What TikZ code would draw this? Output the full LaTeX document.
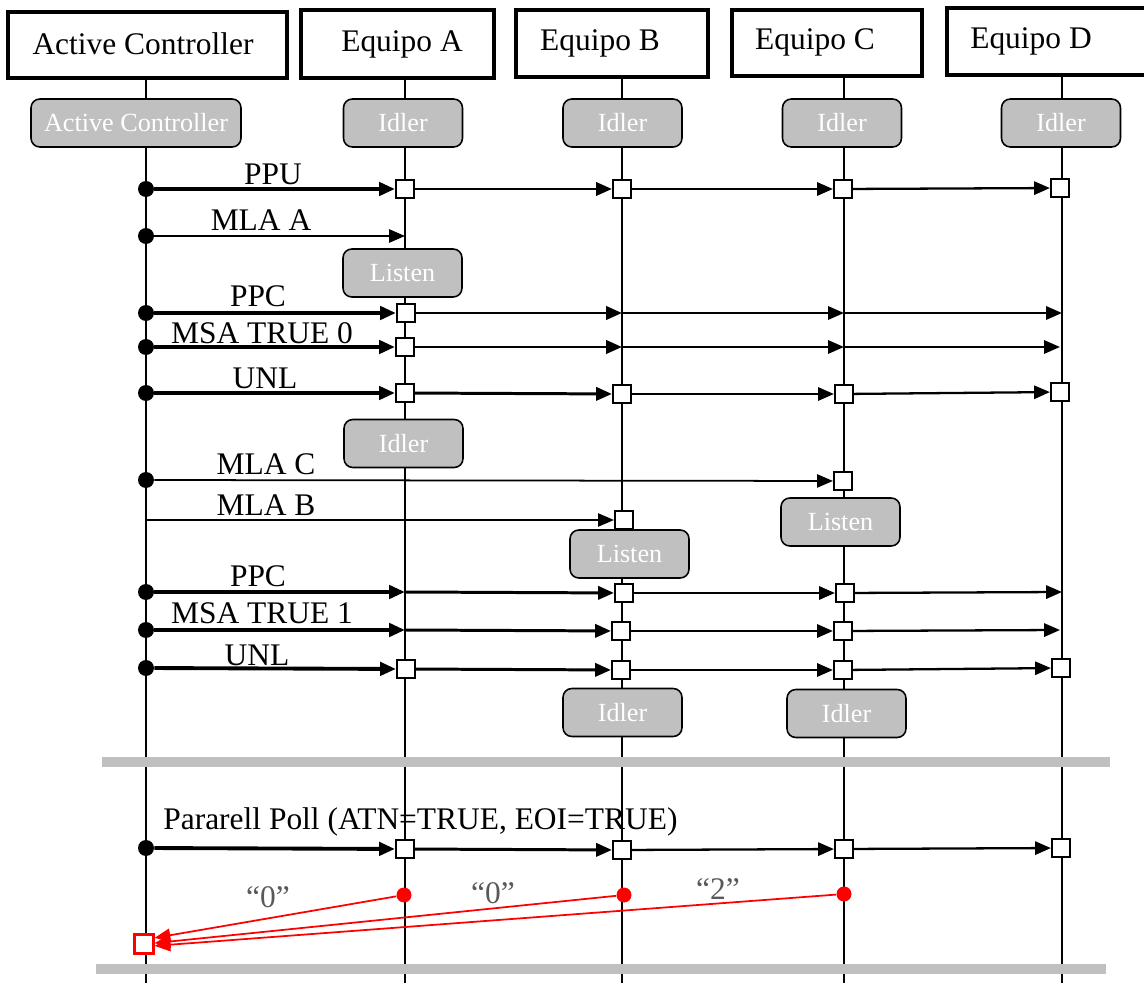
\documentclass[tikz,border=0pt]{standalone}
\usepackage{fontspec}
\setmainfont{Liberation Serif}
\usepackage{tikz}
\usetikzlibrary{arrows.meta, positioning}

\definecolor{stategray}{HTML}{C0C0C0}
\definecolor{quotegray}{HTML}{595959}

\tikzset{
	headbox/.style={draw, line width=2pt, inner sep=0pt},
	headtxt/.style={font=\fontsize{17.9}{20}\selectfont, inner sep=0pt},
	statebox/.style={draw, line width=0.9pt, fill=stategray, rounded corners=5pt, text=white,
		font=\fontsize{14.9}{17}\selectfont, minimum width=2.38cm, minimum height=0.96cm, inner sep=0pt},
	lifeline/.style={line width=1pt},
	sq/.style={draw, line width=1.2pt, fill=white, minimum size=0.36cm, inner sep=0pt},
	src/.style={circle, fill=black, minimum size=0.32cm, inner sep=0pt},
	msglbl/.style={font=\fontsize{17.9}{20}\selectfont, inner sep=0pt},
	msgtip/.style={-{Triangle[length=9pt,width=7.5pt]}},
	bigmsg/.style={msgtip, line width=2.2pt},
	midmsg/.style={msgtip, line width=1.7pt},
	smallmsg/.style={msgtip, line width=1.3pt},
	thinmsg/.style={msgtip, line width=1pt},
	reply/.style={draw=red, line width=1pt, -{Triangle[length=9pt,width=7.5pt]}, red},
	rdot/.style={circle, fill=red, minimum size=0.3cm, inner sep=0pt},
	rsquare/.style={draw=red, line width=1.2pt, fill=white, minimum size=0.38cm, inner sep=0pt},
	quote/.style={font=\fontsize{17.9}{20}\selectfont, text=quotegray, inner sep=0pt},
	sepbar/.style={line width=6.2pt, stategray}
}

\begin{document}
\begin{tikzpicture}[x=0.02cm, y=-0.02cm]
	\useasboundingbox (0,0) rectangle (1144,983);
	% header boxes
	\node[headbox, minimum width=5.58cm, minimum height=1.32cm] (hAC) at (147.5,45) {};
	\node[headbox, minimum width=3.86cm, minimum height=1.36cm] (hA) at (397.5,44) {};
	\node[headbox, minimum width=3.84cm, minimum height=1.34cm] (hB) at (612,43.5) {};
	\node[headbox, minimum width=3.8cm, minimum height=1.32cm] (hC) at (827,43) {};
	\node[headbox, minimum width=4cm, minimum height=1.34cm] (hD) at (1047,41.5) {};
	\node[headtxt] (tAC) at (143,44) {Active Controller};
	\node[headtxt] (tA) at (402,44) {Equipo A};
	\node[headtxt] (tB) at (600,43) {Equipo B};
	\node[headtxt] (tC) at (815,42) {Equipo C};
	\node[headtxt] (tD) at (1031,41) {Equipo D};

	% lifelines
	\coordinate (lAC) at (146,983);
	\coordinate (lA) at (405,983);
	\coordinate (lB) at (622,983);
	\coordinate (lC) at (844,983);
	\coordinate (lD) at (1062,983);
	\draw[lifeline] (hAC.south -| lAC) -- (lAC);
	\draw[lifeline] (hA.south -| lA) -- (lA);
	\draw[lifeline] (hB.south -| lB) -- (lB);
	\draw[lifeline] (hC.south -| lC) -- (lC);
	\draw[lifeline] (hD.south -| lD) -- (lD);

	% states
	\node[statebox, minimum width=4.2cm] (sAC) at (136,123) {Active Controller};
	\node[statebox] (sA0) at (403,123) {Idler};
	\node[statebox] (sB0) at (622.5,123) {Idler};
	\node[statebox] (sC0) at (842,123) {Idler};
	\node[statebox] (sD0) at (1061,123) {Idler};
	\node[statebox] (sA1) at (402.5,273) {Listen};
	\node[statebox] (sA2) at (403.5,443.5) {Idler};
	\node[statebox] (sC1) at (840.5,522) {Listen};
	\node[statebox] (sB1) at (629.5,554) {Listen};
	\node[statebox] (sB2) at (622.5,712.5) {Idler};
	\node[statebox] (sC2) at (846.5,713.5) {Idler};

	% PPU
	\node[src] (ppu0) at (146,189) {};
	\node[sq] (ppuA) at (405,189) {};
	\node[sq] (ppuB) at (622,189) {};
	\node[sq] (ppuC) at (843,189) {};
	\node[sq] (ppuD) at (1060,188) {};
	\node[msglbl] (lppu) at (273,174) {PPU};
	\draw	(ppu0) edge[bigmsg] (ppuA)
			(ppuA) edge[midmsg] (ppuB)
			(ppuB) edge[smallmsg] (ppuC)
			(ppuC) edge[smallmsg] (ppuD);

	% MLA A
	\node[src] (mlaA0) at (146,236) {};
	\coordinate (mlaAA) at (405,236);
	\node[msglbl] (lmlaA) at (261,220) {MLA A};
	\draw[thinmsg] (mlaA0) -- (mlaAA);

	% PPC
	\node[src] (ppcI0) at (146,313) {};
	\node[sq] (ppcIA) at (406,313) {};
	\coordinate (ppcIB) at (622,313);
	\coordinate (ppcIC) at (844,313);
	\coordinate (ppcID) at (1062,313);
	\node[msglbl] (lppcI) at (258,296) {PPC};
	\draw	(ppcI0) edge[bigmsg] (ppcIA)
			(ppcIA) edge[midmsg] (ppcIB)
			(ppcIB) edge[smallmsg] (ppcIC)
			(ppcIC) edge[smallmsg] (ppcID);

	% MSA TRUE 0
	\node[src] (msaI0) at (146,347) {};
	\node[sq] (msaIA) at (405,347) {};
	\coordinate (msaIB) at (622,347);
	\coordinate (msaIC) at (844,347);
	\coordinate (msaID) at (1060,347);
	\node[msglbl] (lmsaI) at (262,333) {MSA TRUE 0};
	\draw	(msaI0) edge[bigmsg] (msaIA)
			(msaIA) edge[midmsg] (msaIB)
			(msaIB) edge[smallmsg] (msaIC)
			(msaIC) edge[smallmsg] (msaID);

	% UNL
	\node[src] (unlI0) at (146,393) {};
	\node[sq] (unlIA) at (405,393) {};
	\node[sq] (unlIB) at (622,394) {};
	\node[sq] (unlIC) at (844,394) {};
	\node[sq] (unlID) at (1060,392) {};
	\node[msglbl] (lunlI) at (265,378) {UNL};
	\draw	(unlI0) edge[bigmsg] (unlIA)
			(unlIA) edge[midmsg] (unlIB)
			(unlIB) edge[smallmsg] (unlIC)
			(unlIC) edge[smallmsg] (unlID);

	% MLA C, MLA B
	\node[src] (mlaC0) at (146,480) {};
	\node[sq] (mlaCC) at (843,481) {};
	\node[msglbl] (lmlaC) at (266,464) {MLA C};
	\draw[thinmsg] (mlaC0) -- (mlaCC);
	\coordinate (mlaB0) at (146,520);
	\node[sq] (mlaBB) at (624,520) {};
	\node[msglbl] (lmlaB) at (266,505) {MLA B};
	\draw[thinmsg] (mlaB0) -- (mlaBB);

	% PPC
	\node[src] (ppcII0) at (146,592) {};
	\coordinate (ppcIIA) at (405,592);
	\node[sq] (ppcIIB) at (624,593) {};
	\node[sq] (ppcIIC) at (845,593) {};
	\coordinate (ppcIID) at (1062,592);
	\node[msglbl] (lppcII) at (258,576) {PPC};
	\draw	(ppcII0) edge[bigmsg] (ppcIIA)
			(ppcIIA) edge[midmsg] (ppcIIB)
			(ppcIIB) edge[smallmsg] (ppcIIC)
			(ppcIIC) edge[smallmsg] (ppcIID);

	% MSA TRUE 1
	\node[src] (msaII0) at (146,630) {};
	\coordinate (msaIIA) at (405,630);
	\node[sq] (msaIIB) at (621,631) {};
	\node[sq] (msaIIC) at (843,631) {};
	\coordinate (msaIID) at (1060,630);
	\node[msglbl] (lmsaII) at (262,613) {MSA TRUE 1};
	\draw	(msaII0) edge[bigmsg] (msaIIA)
			(msaIIA) edge[midmsg] (msaIIB)
			(msaIIB) edge[smallmsg] (msaIIC)
			(msaIIC) edge[smallmsg] (msaIID);

	% UNL
	\node[src] (unlII0) at (146,668) {};
	\node[sq] (unlIIA) at (406,669) {};
	\node[sq] (unlIIB) at (621,670) {};
	\node[sq] (unlIIC) at (843,670) {};
	\node[sq] (unlIID) at (1061,668) {};
	\node[msglbl] (lunlII) at (257,655) {UNL};
	\draw	(unlII0) edge[bigmsg] (unlIIA)
			(unlIIA) edge[midmsg] (unlIIB)
			(unlIIB) edge[smallmsg] (unlIIC)
			(unlIIC) edge[smallmsg] (unlIID);

	\draw[sepbar] (102,762) -- (1110,762);

	% parallel poll
	\node[src] (pp0) at (146,848) {};
	\node[sq] (ppA) at (405,849) {};
	\node[sq] (ppB) at (622,850) {};
	\node[sq] (ppC) at (844,849) {};
	\node[sq] (ppD) at (1061,848) {};
	\node[msglbl, anchor=west] (lpp) at (163,822) {Pararell Poll (ATN=TRUE, EOI=TRUE)};
	\draw	(pp0) edge[bigmsg] (ppA)
			(ppA) edge[midmsg] (ppB)
			(ppB) edge[smallmsg] (ppC)
			(ppC) edge[smallmsg] (ppD);

	% answers
	\node[rdot] (rA) at (404,895) {};
	\node[rdot] (rB) at (624,895) {};
	\node[rdot] (rC) at (844,894) {};
	\node[rsquare] (rAC) at (144,944) {};
	\node[quote] (qA) at (268,897) {“0”};
	\node[quote] (qB) at (493,893) {“0”};
	\node[quote] (qC) at (718,889) {“2”};
	\draw[reply] (rA) -- (rAC.30);
	\draw[reply] (rB) -- (rAC.5);
	\draw[reply] (rC) -- (rAC.-10);

	\draw[sepbar] (96,969) -- (1106,969);
\end{tikzpicture}
\end{document}
